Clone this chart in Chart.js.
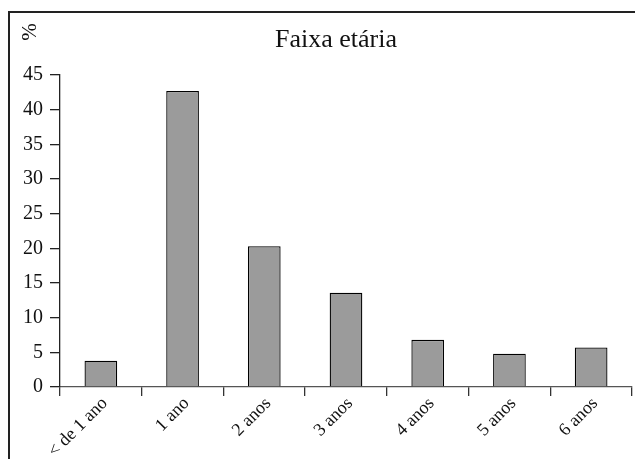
<!DOCTYPE html>
<html>
<head>
<meta charset="utf-8">
<script src="https://cdn.jsdelivr.net/npm/chart.js@4"></script>
<style>
  html, body { margin: 0; padding: 0; background: #fff; }
  #wrap { width: 635px; height: 459px; }
</style>
</head>
<body>
<div id="wrap"><canvas id="ageChart"></canvas></div>
<script>
const categories = ['< de 1 ano', '1 ano', '2 anos', '3 anos', '4 anos', '5 anos', '6 anos'];
const percentValues = [3.8, 42.7, 20.3, 13.6, 6.8, 4.8, 5.7];
const yTicks = [0, 5, 10, 15, 20, 25, 30, 35, 40, 45];
const chartTitle = 'Faixa etária';

const serif = '"Liberation Serif", "Times New Roman", serif';

// frame, title and rotated "%" label, like the original figure
const framePlugin = {
    id: 'frame',
    afterDraw(chart) {
        const ctx = chart.ctx;
        ctx.save();
        ctx.strokeStyle = '#222';
        ctx.lineWidth = 2;
        ctx.beginPath();
        ctx.moveTo(9, 470);
        ctx.lineTo(9, 12);
        ctx.lineTo(640, 12);
        ctx.stroke();

        ctx.fillStyle = '#111';
        ctx.textAlign = 'center';
        ctx.textBaseline = 'middle';
        ctx.font = '26px ' + serif;
        ctx.fillText(chartTitle, 336, 40);

        ctx.translate(30, 32);
        ctx.rotate(-Math.PI / 2);
        ctx.font = '21px ' + serif;
        ctx.fillText('%', 0, 0);
        ctx.restore();
    }
};

new Chart(document.getElementById('ageChart').getContext('2d'), {
    type: 'bar',
    data: {
        labels: categories,
        datasets: [{
            data: percentValues,
            backgroundColor: '#9b9b9b',
            borderColor: '#000',
            borderWidth: 1.3,
            barPercentage: 0.8,
            categoryPercentage: 0.5
        }]
    },
    options: {
        responsive: true,
        maintainAspectRatio: false,
        animation: false,
        layout: { padding: { left: 0, right: 3, top: 75, bottom: 0 } },
        plugins: {
            legend: { display: false },
            tooltip: { enabled: false },
            title: { display: false }
        },
        scales: {
            x: {
                afterFit: s => { s.height = 72; },
                border: { color: '#555', width: 1.3 },
                grid: { drawOnChartArea: false, color: '#333', tickLength: 9, lineWidth: 1.3 },
                ticks: {
                    color: '#111',
                    font: { family: serif, size: 18 },
                    minRotation: 45,
                    maxRotation: 45,
                    padding: -3,
                    labelOffset: 4
                }
            },
            y: {
                min: 0,
                max: 45,
                afterFit: s => { s.width = 60; },
                afterBuildTicks: s => { s.ticks = yTicks.map(v => ({ value: v })); },
                border: { color: '#222', width: 1.3 },
                grid: { drawOnChartArea: false, color: '#222', tickLength: 10, lineWidth: 1.3 },
                ticks: {
                    color: '#111',
                    font: { family: serif, size: 20 },
                    padding: 7
                }
            }
        }
    },
    plugins: [framePlugin]
});
</script>
</body>
</html>
